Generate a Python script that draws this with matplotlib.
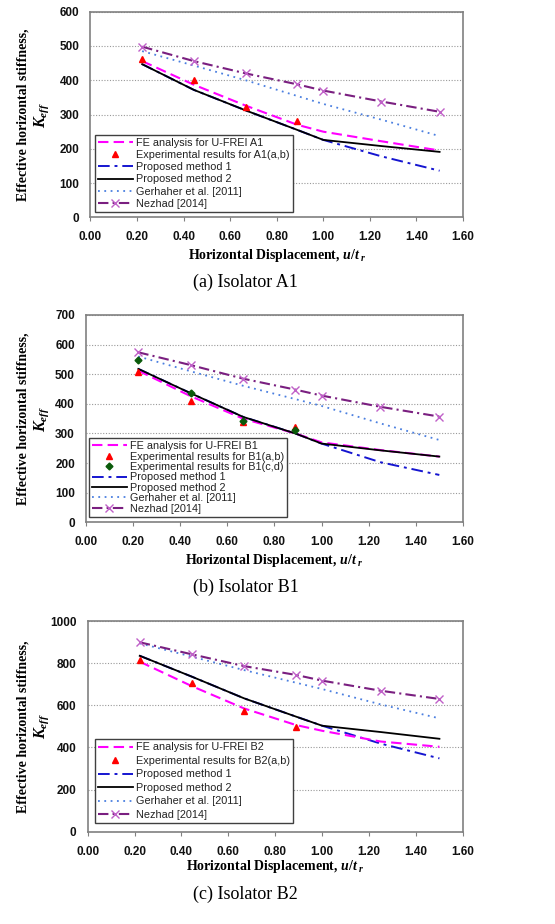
import matplotlib.pyplot as plt

plt.rcParams['mathtext.fontset'] = 'custom'
plt.rcParams['mathtext.it'] = 'Liberation Serif:bold:italic'
plt.rcParams['mathtext.rm'] = 'Liberation Serif:bold'
plt.rcParams['mathtext.bf'] = 'Liberation Serif:bold'

# u/t_r values
x_all = [0.222, 0.444, 0.667, 0.889, 1.0, 1.25, 1.5]
x_exp = [0.222, 0.444, 0.667, 0.889]

# (a) Isolator A1
fe_a1 = [456, 387, 326, 270, 250, 222, 195]
exp_a1 = [463, 401, 323, 282]
pm1_a1 = [447, 372, 312, 255, 226, 178, 136]
pm2_a1 = [447, 372, 312, 255, 226, 208, 191]
ger_a1 = [485, 443, 400, 354, 331, 285, 237]
nez_a1 = [498, 456, 420, 388, 370, 338, 308]

# (b) Isolator B1
fe_b1 = [512, 426, 350, 300, 270, 244, 222]
exp_b1_ab = [507, 410, 338, 321]
exp_b1_cd = [547, 438, 343, 313]
pm1_b1 = [518, 436, 356, 300, 266, 203, 160]
pm2_b1 = [518, 436, 356, 300, 266, 243, 222]
ger_b1 = [560, 510, 461, 416, 393, 334, 278]
nez_b1 = [574, 531, 485, 448, 428, 390, 357]

# (c) Isolator B2
fe_b2 = [807, 691, 585, 506, 479, 428, 403]
exp_b2 = [815, 704, 573, 498]
pm1_b2 = [835, 736, 633, 546, 503, 418, 348]
pm2_b2 = [835, 736, 633, 546, 503, 473, 441]
ger_b2 = [894, 831, 767, 707, 677, 604, 538]
nez_b2 = [899, 842, 786, 744, 717, 669, 630]

fig = plt.figure(figsize=(5.55, 9.24), dpi=100)

panels = [
    dict(rect=[0.163, 0.7648, 0.671, 0.2225], ymax=600, ystep=100,
         fe=fe_a1, fe_lab='FE analysis for U-FREI A1',
         exps=[(exp_a1, 'Experimental results for A1(a,b)', '^', '#FF0000', 5)],
         pm1=pm1_a1, pm2=pm2_a1, ger=ger_a1, nez=nez_a1,
         leg=(0.0115, 0.026), xl_y=0.724, cap_y=0.694, cap='(a) Isolator A1', ls=0.2),
    dict(rect=[0.155, 0.4347, 0.679, 0.2244], ymax=700, ystep=100,
         fe=fe_b1, fe_lab='FE analysis for U-FREI B1',
         exps=[(exp_b1_ab, 'Experimental results for B1(a,b)', '^', '#FF0000', 5),
               (exp_b1_cd, 'Experimental results for B1(c,d)', 'D', '#0A5A0A', 3.5)],
         pm1=pm1_b1, pm2=pm2_b1, ger=ger_b1, nez=nez_b1,
         leg=(0.0075, 0.026), xl_y=0.393, cap_y=0.364, cap='(b) Isolator B1', ls=0.04),
    dict(rect=[0.158, 0.0999, 0.676, 0.2280], ymax=1000, ystep=200,
         fe=fe_b2, fe_lab='FE analysis for U-FREI B2',
         exps=[(exp_b2, 'Experimental results for B2(a,b)', '^', '#FF0000', 5)],
         pm1=pm1_b2, pm2=pm2_b2, ger=ger_b2, nez=nez_b2,
         leg=(0.019, 0.041), xl_y=0.0617, cap_y=0.0325, cap='(c) Isolator B2', ls=0.32),
]

for p in panels:
    ax = fig.add_axes(p['rect'])
    ax.plot(x_all, p['fe'], color='#FF00FF', lw=1.5, ls=(0, (5, 2.5)), label=p['fe_lab'], zorder=3)
    for vals, lab, mk, col, ms in p['exps']:
        ax.plot(x_exp, vals, ls='none', marker=mk, color=col, ms=ms, label=lab, zorder=5)
    ax.plot(x_all, p['pm1'], color='#1515D0', lw=1.4, ls=(0, (6, 2.5, 1.5, 2.5)), label='Proposed method 1', zorder=2)
    ax.plot(x_all, p['pm2'], color='black', lw=1.3, label='Proposed method 2', zorder=4)
    ax.plot(x_all, p['ger'], color='#4A7FE0', lw=1.3, ls=(0, (1, 2.5)), label='Gerhaher et al. [2011]', zorder=2)
    ax.plot(x_all, p['nez'], color='#7A1F80', lw=1.5, ls=(0, (5, 2, 1, 2)), marker='x',
            mec='#C060C8', ms=6, mew=1.0, label='Nezhad [2014]', zorder=3)

    ax.set_xlim(0, 1.6)
    ax.set_ylim(0, p['ymax'])
    ax.set_xticks([i * 0.2 for i in range(9)])
    ax.set_xticklabels(['%.2f' % (i * 0.2) for i in range(9)])
    ax.set_yticks(range(0, p['ymax'] + 1, p['ystep']))
    ax.yaxis.grid(True, ls=(0, (1, 1.5)), color='#999999', lw=0.8)
    ax.set_axisbelow(True)
    for s in ax.spines.values():
        s.set_color('#808080')
        s.set_linewidth(1.2)
    ax.tick_params(axis='x', direction='out', length=3, color='#808080', pad=7)
    ax.tick_params(axis='y', length=0, pad=8)
    for t in ax.get_xticklabels() + ax.get_yticklabels():
        t.set_fontfamily('Liberation Sans')
        t.set_fontweight('bold')
        t.set_fontsize(8.5)
        t.set_color('#111111')

    leg = ax.legend(loc='lower left', bbox_to_anchor=p['leg'], prop={'family': 'Liberation Sans', 'size': 7.8},
                    frameon=True, fancybox=False, framealpha=1, edgecolor='#404040', borderpad=0.3,
                    labelspacing=p['ls'], handlelength=3.2, handletextpad=0.3, borderaxespad=0, numpoints=1)
    leg.get_frame().set_linewidth(1.0)
    for t in leg.get_texts():
        t.set_color('#222222')

    r = p['rect']
    yc = r[1] + r[3] / 2
    xc = r[0] + r[2] / 2
    fig.text(0.041, yc, 'Effective horizontal stiffness,', rotation=90, ha='center', va='center',
             family='Liberation Serif', weight='bold', size=10)
    fig.text(0.076, yc, '$K_{eff}$', rotation=90, ha='center', va='center', size=11.5)
    fig.text(xc, p['xl_y'], r'Horizontal Displacement, $u/t_{\ r}$', ha='center', va='center',
             family='Liberation Serif', weight='bold', size=10)
    fig.text(0.4425, p['cap_y'], p['cap'], ha='center', va='center', family='Liberation Serif', size=13)

fig.savefig('out.png', dpi=100)
